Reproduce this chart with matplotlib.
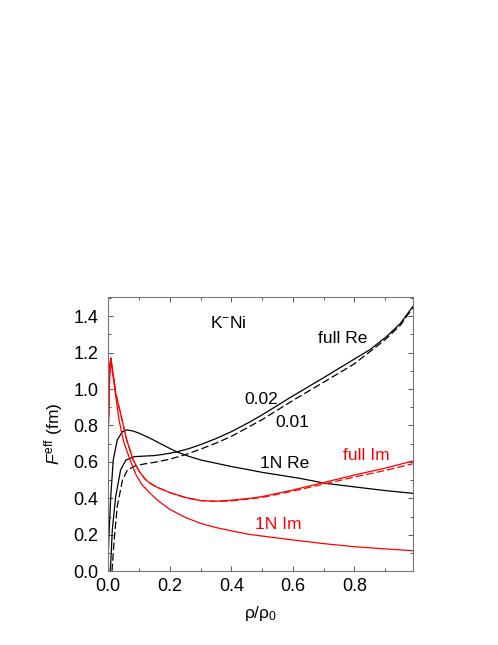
import matplotlib
matplotlib.use("Agg")
import matplotlib.pyplot as plt
from matplotlib.ticker import MultipleLocator

plt.rcParams['font.family'] = ['Liberation Sans', 'DejaVu Sans']
plt.rcParams['mathtext.fontset'] = 'custom'
plt.rcParams['mathtext.rm'] = 'Liberation Sans'
plt.rcParams['mathtext.it'] = 'Liberation Sans:italic'

# ---- data ----
re1n_x = [0.0, 0.002, 0.008, 0.016, 0.029, 0.045, 0.06, 0.08, 0.1, 0.136, 0.17, 0.2, 0.222,
          0.26, 0.3, 0.4, 0.461, 0.5, 0.623, 0.705, 0.84, 0.9, 0.99]
re1n_y = [0.10, 0.19, 0.41, 0.61, 0.72, 0.765, 0.776, 0.77, 0.758, 0.73, 0.70, 0.674, 0.656,
          0.632, 0.611, 0.575, 0.556, 0.543, 0.51, 0.483, 0.455, 0.443, 0.428]

refull02_x = [0.006, 0.008, 0.013, 0.024, 0.04, 0.057, 0.084, 0.116, 0.15, 0.18, 0.222,
              0.26, 0.3, 0.35, 0.4, 0.461, 0.5, 0.6, 0.7, 0.786, 0.85, 0.905, 0.95, 0.99]
refull02_y = [0.0, 0.045, 0.227, 0.41, 0.556, 0.61, 0.629, 0.632, 0.635, 0.642, 0.655,
              0.672, 0.695, 0.728, 0.766, 0.82, 0.858, 0.962, 1.062, 1.15, 1.215, 1.288, 1.36, 1.452]

refull01_x = [0.012, 0.013, 0.019, 0.029, 0.046, 0.062, 0.09, 0.12, 0.15, 0.2, 0.25,
              0.3, 0.35, 0.4, 0.5, 0.6, 0.7, 0.8, 0.9, 0.95, 0.99]
refull01_y = [0.0, 0.025, 0.17, 0.355, 0.50, 0.556, 0.58, 0.59, 0.598, 0.615, 0.64,
              0.67, 0.703, 0.74, 0.832, 0.937, 1.037, 1.138, 1.27, 1.35, 1.445]

im1n_x = [0.0, 0.003, 0.008, 0.015, 0.025, 0.035, 0.05, 0.071, 0.09, 0.11, 0.136, 0.16,
          0.2, 0.25, 0.3, 0.35, 0.4, 0.46, 0.6, 0.7, 0.8, 0.9, 0.99]
im1n_y = [1.0, 1.12, 1.17, 1.08, 0.95, 0.83, 0.71, 0.611, 0.53, 0.474, 0.428, 0.39,
          0.34, 0.296, 0.263, 0.24, 0.222, 0.202, 0.172, 0.152, 0.135, 0.123, 0.113]

imfull02_x = [0.0, 0.002, 0.004, 0.008, 0.015, 0.025, 0.045, 0.06, 0.081, 0.1, 0.12, 0.136,
              0.16, 0.2, 0.25, 0.3, 0.35, 0.4, 0.46, 0.5, 0.6, 0.7, 0.8, 0.9, 0.99]
imfull02_y = [0.79, 0.86, 1.05, 1.17, 1.09, 0.97, 0.83, 0.72, 0.611, 0.55, 0.505, 0.483,
              0.46, 0.432, 0.405, 0.388, 0.384, 0.39, 0.40, 0.41, 0.446, 0.487, 0.528, 0.566, 0.605]

imfull01_x = [0.0, 0.002, 0.004, 0.008, 0.015, 0.025, 0.045, 0.06, 0.081, 0.1, 0.12, 0.136,
              0.16, 0.2, 0.25, 0.3, 0.35, 0.4, 0.5, 0.6, 0.7, 0.8, 0.9, 0.99]
imfull01_y = [0.79, 0.86, 1.05, 1.17, 1.09, 0.97, 0.83, 0.72, 0.611, 0.55, 0.505, 0.483,
              0.46, 0.432, 0.405, 0.388, 0.384, 0.386, 0.405, 0.44, 0.478, 0.517, 0.553, 0.59]

x_ticks = [0.0, 0.2, 0.4, 0.6, 0.8]
x_ticklabels = ['0.0', '0.2', '0.4', '0.6', '0.8']
y_ticks = [0.0, 0.2, 0.4, 0.6, 0.8, 1.0, 1.2, 1.4]
y_ticklabels = ['0.0', '0.2', '0.4', '0.6', '0.8', '1.0', '1.2', '1.4']

fig = plt.figure(figsize=(4.98, 6.45), dpi=100)
ax = fig.add_axes([108.3 / 498, 1 - 571.3 / 645, (413.3 - 108.3) / 498, (571.3 - 297) / 645])

lw = 0.9
dash = (0, (6, 2.5))
ax.plot(re1n_x, re1n_y, color='black', lw=lw)
ax.plot(refull02_x, refull02_y, color='black', lw=lw)
ax.plot(refull01_x, refull01_y, color='black', lw=lw, linestyle=dash)
ax.plot(im1n_x, im1n_y, color='red', lw=lw)
ax.plot(imfull02_x, imfull02_y, color='red', lw=lw)
ax.plot(imfull01_x, imfull01_y, color='red', lw=lw, linestyle=dash)

ax.set_xlim(0, 0.992)
ax.set_ylim(0, 1.505)
ax.set_xticks(x_ticks)
ax.set_xticklabels(x_ticklabels)
ax.set_yticks(y_ticks)
ax.set_yticklabels(y_ticklabels)
ax.xaxis.set_minor_locator(MultipleLocator(0.1))
ax.yaxis.set_minor_locator(MultipleLocator(0.1))
ax.tick_params(which='both', direction='in', top=True, right=True, labelsize=13,
               color='#555555', width=0.7)
ax.tick_params(which='major', length=3.5)
ax.tick_params(which='minor', length=2.5)
ax.tick_params(axis='y', pad=7)
ax.tick_params(axis='x', pad=5)
for s in ax.spines.values():
    s.set_color('#777777')
    s.set_linewidth(0.8)

fs = 12.5
ax.text(0.331, 1.36, 'K$^{-}$Ni', fontsize=fs, va='center', ha='left')
ax.text(0.683, 1.28, 'full Re', fontsize=fs, va='center', ha='left')
ax.text(0.442, 0.94, '0.02', fontsize=fs, va='center', ha='left')
ax.text(0.543, 0.816, '0.01', fontsize=fs, va='center', ha='left')
ax.text(0.493, 0.593, '1N Re', fontsize=fs, va='center', ha='left')
ax.text(0.764, 0.633, 'full Im', fontsize=fs, va='center', ha='left', color='red')
ax.text(0.477, 0.258, '1N Im', fontsize=fs, va='center', ha='left', color='red')

ax.set_xlabel('ρ/ρ$_0$', fontsize=12.5, labelpad=6)
ax.set_ylabel('$F^{\\mathrm{eff}}$ (fm)', fontsize=12.5, labelpad=6)

fig.savefig('out.png', dpi=100)
